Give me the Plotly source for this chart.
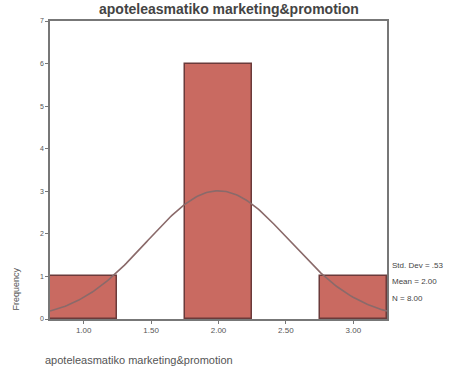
import numpy as np
import plotly.graph_objects as go

# Data
bin_centers = [1.0, 2.0, 3.0]
frequencies = [1, 6, 1]
bin_width = 0.5
stat_labels = ["Std. Dev = .53", "Mean = 2.00", "N = 8.00"]
mean_val = 2.00
sd_val = 0.53
n_val = 8
x_ticks = [1.0, 1.5, 2.0, 2.5, 3.0]
x_tick_text = ["1.00", "1.50", "2.00", "2.50", "3.00"]
y_ticks = [0, 1, 2, 3, 4, 5, 6, 7]

fig = go.Figure()
fig.add_trace(go.Bar(
    x=bin_centers, y=frequencies, width=bin_width,
    marker=dict(color="#c96a61", line=dict(color="#6b3a3a", width=1.5)),
    showlegend=False,
))

xc = np.linspace(0.75, 3.25, 200)
yc = n_val * bin_width / (sd_val * np.sqrt(2 * np.pi)) * np.exp(-0.5 * ((xc - mean_val) / sd_val) ** 2)
fig.add_trace(go.Scatter(x=xc, y=yc, mode="lines",
                         line=dict(color="#8a6a6a", width=1.6), showlegend=False))

fig.update_layout(
    width=469, height=378,
    margin=dict(l=50, r=82, t=21, b=59),
    paper_bgcolor="white", plot_bgcolor="white",
    bargap=0,
    font=dict(family="Liberation Sans, Arial", color="#555555", size=7),
)
fig.update_xaxes(range=[0.75, 3.25], tickvals=x_ticks, ticktext=x_tick_text,
                 showgrid=False, zeroline=False, showline=True, mirror=True,
                 linecolor="#777777", linewidth=1.5, ticks="outside", ticklen=3,
                 tickcolor="#777777", tickfont=dict(size=8, color="#555555"))
fig.update_yaxes(range=[0, 7], tickvals=y_ticks,
                 showgrid=False, zeroline=False, showline=True, mirror=True,
                 linecolor="#777777", linewidth=1.5, ticks="outside", ticklen=3,
                 tickcolor="#777777", tickfont=dict(size=7, color="#555555"))

# axis titles
fig.add_annotation(text="Frequency", xref="paper", yref="paper", x=-0.1, y=0.1,
                   textangle=-90, showarrow=False, font=dict(size=9, color="#555555"),
                   xanchor="center", yanchor="middle")
fig.add_annotation(text="apoteleasmatiko marketing&promotion", xref="paper", yref="paper",
                   x=-0.02, y=-0.11, xanchor="left", yanchor="top", showarrow=False,
                   font=dict(size=11, color="#555555"))
# stats
for i, s in enumerate(stat_labels):
    fig.add_annotation(text=s, xref="paper", yref="paper", x=1.01, y=0.18 - i * 0.055,
                       xanchor="left", yanchor="middle", showarrow=False,
                       font=dict(size=8, color="#444444"))
# title
fig.add_annotation(text="<b>apoteleasmatiko marketing&promotion</b>", xref="paper", yref="paper",
                   x=0.53, y=1, yshift=12, xanchor="center", yanchor="middle", showarrow=False,
                   font=dict(size=14, color="#444444"))

fig.write_html("out.html")
